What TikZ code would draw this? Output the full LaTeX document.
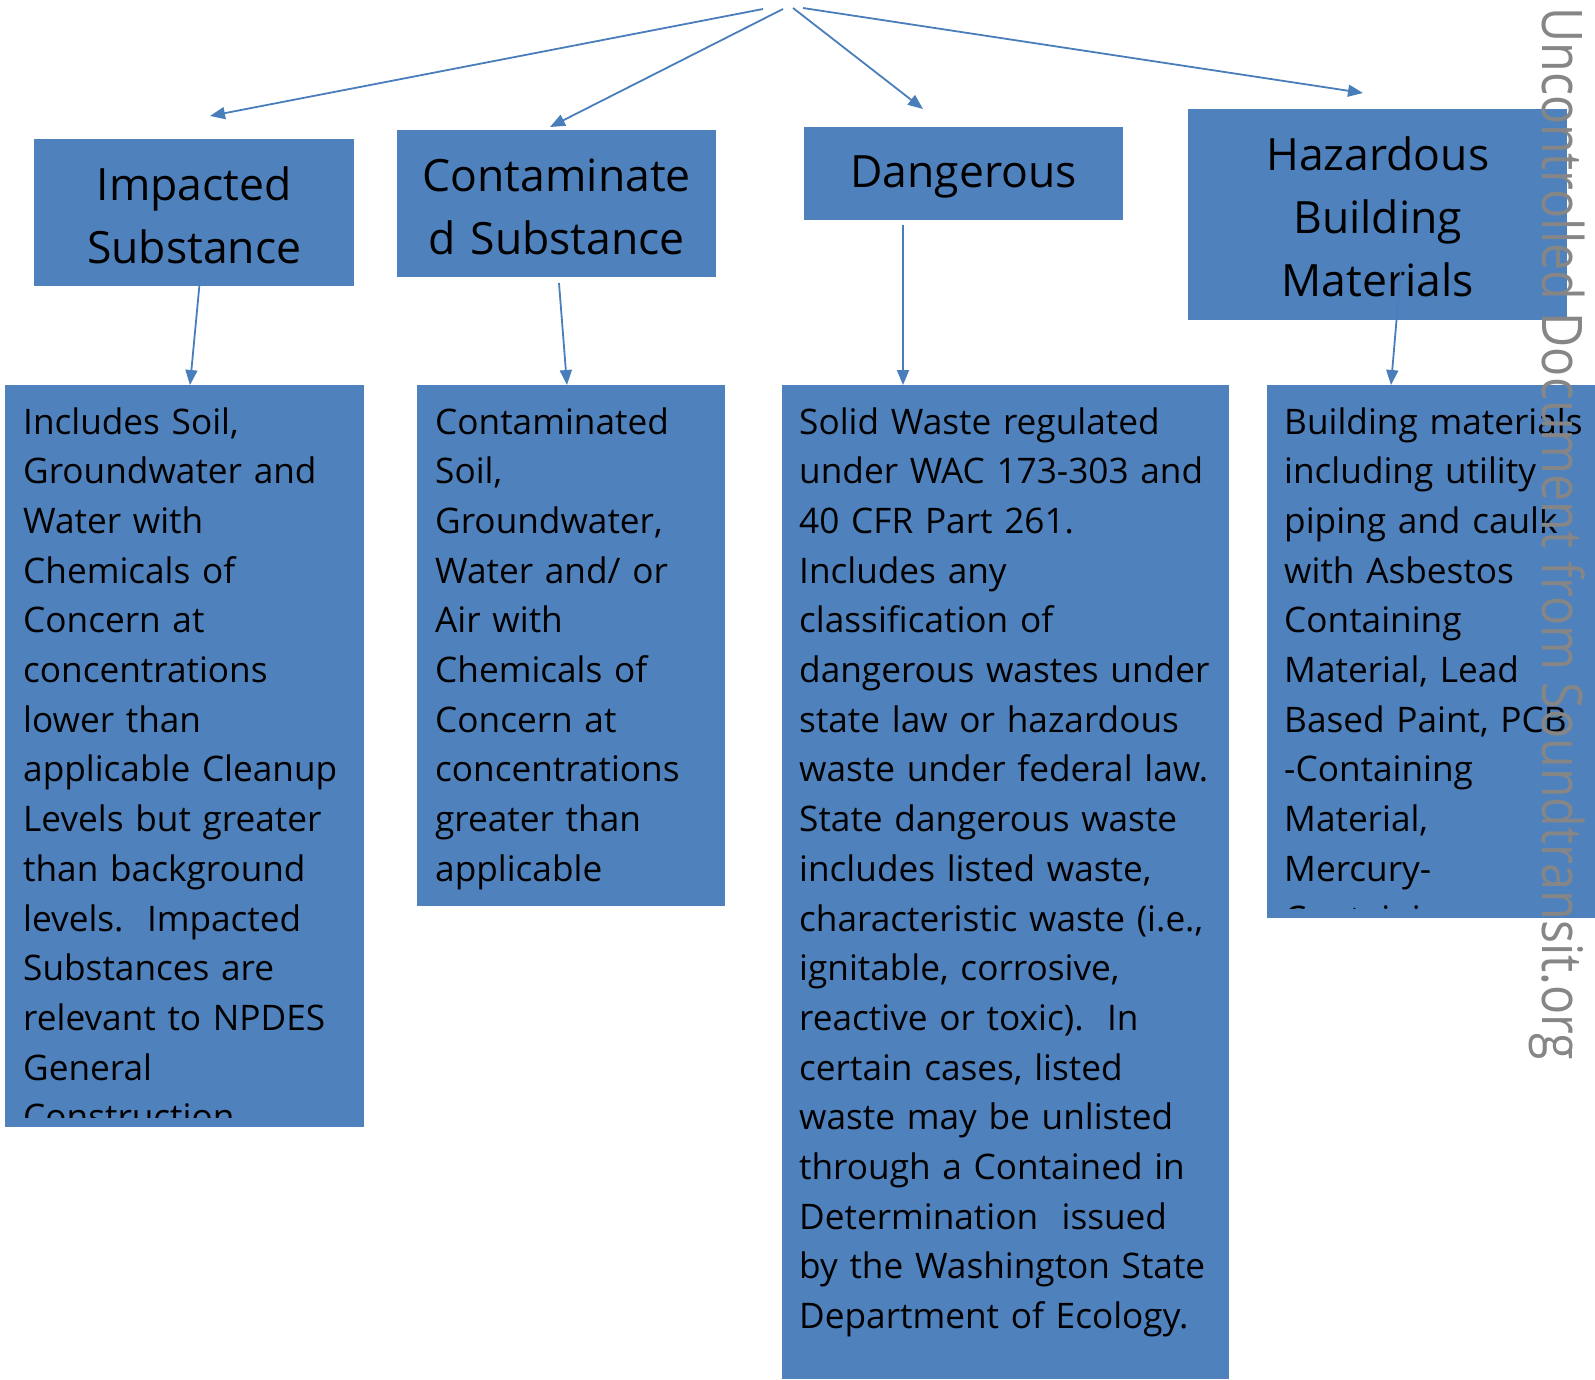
\documentclass[tikz,border=0pt]{standalone}
\usepackage{fontspec}
\usepackage{graphicx}
\setmainfont{Open Sans}
\usetikzlibrary{arrows.meta}
\definecolor{boxblue}{HTML}{4F81BD}
\definecolor{lineblue}{HTML}{4A7EBB}
\definecolor{markgray}{HTML}{868686}

\begin{document}
\begin{tikzpicture}[x=1pt,y=-1pt,
  headbox/.style={fill=boxblue,draw=none,anchor=north west,inner sep=0pt},
  descbox/.style={fill=boxblue,draw=none,anchor=north west,inner sep=0pt},
  headtext/.style={anchor=base,align=center,inner sep=0pt,font=\fontsize{44.5}{63}\selectfont},
  desctext/.style={anchor=base west,align=left,inner sep=0pt,text width=430pt,font=\fontsize{35.2}{49.7}\selectfont},
  link/.style={draw=lineblue,line width=1.8pt,-{Triangle[length=15pt,width=12pt]}}]
\useasboundingbox (0,0) rectangle (1595,1379);

\node[headbox,minimum width=320pt,minimum height=147pt] (imp) at (34,139) {};
\node[headbox,minimum width=319pt,minimum height=147pt] (cont) at (397,130) {};
\node[headbox,minimum width=319pt,minimum height=93pt] (dang) at (804,127) {};
\node[headbox,minimum width=379pt,minimum height=211pt] (haz) at (1188,109) {};

\node[headtext,text width=320pt] (imptitle) at ([yshift=-61pt]imp.north) {Impacted\\Substance};
\node[headtext,text width=319pt] (conttitle) at ([yshift=-61pt]cont.north) {Contaminate\\d Substance};
\node[headtext,text width=319pt] (dangtitle) at ([yshift=-60pt]dang.north) {Dangerous};
\node[headtext,text width=379pt] (haztitle) at ([yshift=-61pt]haz.north) {Hazardous\\Building\\Materials};

\node[descbox,minimum width=359pt,minimum height=742pt] (impdesc) at (5,385) {};
\node[descbox,minimum width=308pt,minimum height=521pt] (contdesc) at (417,385) {};
\node[descbox,minimum width=447pt,minimum height=994pt] (dangdesc) at (782,385) {};
\node[descbox,minimum width=328pt,minimum height=533pt] (hazdesc) at (1267,385) {};

\begin{scope}
\clip (impdesc.north west) rectangle ([yshift=10pt]impdesc.south east);
\node[desctext] (impnote) at (23,434) {Includes Soil,\\Groundwater and\\Water with\\Chemicals of\\Concern at\\concentrations\\lower than\\applicable Cleanup\\Levels but greater\\than background\\levels.\ \ Impacted\\Substances are\\relevant to NPDES\\General\\Construction};
\end{scope}
\begin{scope}
\clip (contdesc.north west) rectangle ([yshift=10pt]contdesc.south east);
\node[desctext] (contnote) at (435,434) {Contaminated\\Soil,\\Groundwater,\\Water and/ or\\Air with\\Chemicals of\\Concern at\\concentrations\\greater than\\applicable\\Cleanup};
\end{scope}
\node[desctext] (dangnote) at (799,434) {Solid Waste regulated\\under WAC 173-303 and\\40 CFR Part 261.\\Includes any\\classification of\\dangerous wastes under\\state law or hazardous\\waste under federal law.\\State dangerous waste\\includes listed waste,\\characteristic waste (i.e.,\\ignitable, corrosive,\\reactive or toxic).\ \ In\\certain cases, listed\\waste may be unlisted\\through a Contained in\\Determination\ \ issued\\by the Washington State\\Department of Ecology.};
\begin{scope}
\clip (hazdesc.north west) rectangle ([yshift=10pt]hazdesc.south east);
\node[desctext] (haznote) at (1284,434) {Building materials\\including utility\\piping and caulk\\with Asbestos\\Containing\\Material, Lead\\Based Paint, PCB\\-Containing\\Material,\\Mercury-\\Containing};
\end{scope}

\coordinate (top1) at (763,9);
\coordinate (top2) at (783,9);
\coordinate (top3) at (793,8);
\coordinate (top4) at (803,8);
\coordinate (impin) at (210,116);
\coordinate (contin) at (550,127);
\coordinate (dangin) at (923,109);
\coordinate (hazin) at (1363,93);
\draw[link] (top1) -- (impin);
\draw[link] (top2) -- (contin);
\draw[link] (top3) -- (dangin);
\draw[link] (top4) -- (hazin);

\coordinate (impout) at (200,279);
\coordinate (contout) at (559,283);
\coordinate (dangout) at (903,225);
\coordinate (hazout) at (1401,267);
\draw[link] (impout) -- (impdesc.north -| 190,0);
\draw[link] (contout) -- (contdesc.north -| 567,0);
\draw[link] (dangout) -- (dangdesc.north -| 903,0);
\draw[link] (hazout) -- (hazdesc.north -| 1391,0);

\node[rotate=-90,anchor=base west,inner sep=0pt,text=markgray,font=\fontsize{56}{60}\selectfont] (mark) at (1542,7) {\scalebox{0.863}[1]{Uncontrolled Document from Soundtransit.org}};
\end{tikzpicture}
\end{document}
